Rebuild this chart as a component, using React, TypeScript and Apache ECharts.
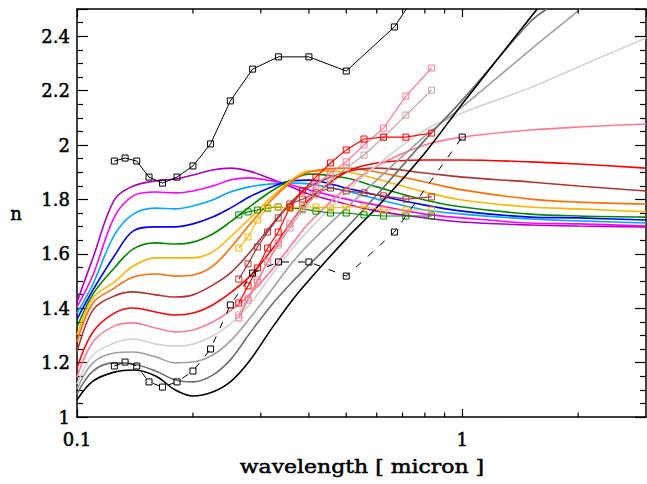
import React, { useEffect, useRef } from "react";
import * as echarts from "echarts";

// model curves: wavelength grid
const curveX = [0.1, 0.11, 0.125, 0.14, 0.16, 0.18, 0.2, 0.225, 0.25, 0.28, 0.32, 0.36, 0.4, 0.5, 0.6, 0.8, 1, 1.5, 2, 3];
const grayX = [0.1, 0.11, 0.125, 0.14, 0.16, 0.18, 0.2, 0.225, 0.25, 0.28, 0.32, 0.36, 0.4, 0.5, 0.6, 0.8, 1, 1.5, 2, 2.02];
const darkGrayX = [0.1, 0.11, 0.125, 0.14, 0.16, 0.18, 0.2, 0.225, 0.25, 0.28, 0.32, 0.36, 0.4, 0.5, 0.6, 0.8, 1, 1.5, 1.66];
const blackX = [0.1, 0.11, 0.125, 0.14, 0.16, 0.18, 0.2, 0.225, 0.25, 0.28, 0.32, 0.36, 0.4, 0.5, 0.6, 0.8, 1, 1.5, 1.566];

const nPurple = [1.423, 1.585, 1.798, 1.849, 1.868, 1.875, 1.89, 1.908, 1.915, 1.904, 1.875, 1.846, 1.82, 1.783, 1.757, 1.732, 1.717, 1.706, 1.702, 1.699];
const nMagenta = [1.404, 1.522, 1.735, 1.813, 1.827, 1.824, 1.831, 1.849, 1.871, 1.879, 1.868, 1.853, 1.835, 1.801, 1.779, 1.746, 1.732, 1.713, 1.71, 1.702];
const nSky = [1.382, 1.489, 1.669, 1.746, 1.768, 1.765, 1.776, 1.798, 1.827, 1.846, 1.857, 1.86, 1.857, 1.831, 1.801, 1.761, 1.746, 1.728, 1.721, 1.713];
const nBlue = [1.36, 1.467, 1.592, 1.684, 1.699, 1.699, 1.71, 1.735, 1.768, 1.809, 1.846, 1.868, 1.871, 1.842, 1.816, 1.779, 1.757, 1.735, 1.732, 1.724];
const nGreen = [1.331, 1.452, 1.548, 1.618, 1.64, 1.636, 1.643, 1.673, 1.717, 1.772, 1.831, 1.871, 1.893, 1.879, 1.846, 1.798, 1.772, 1.746, 1.739, 1.735];
const nGold = [1.301, 1.438, 1.496, 1.555, 1.585, 1.585, 1.585, 1.607, 1.662, 1.728, 1.809, 1.871, 1.904, 1.901, 1.875, 1.827, 1.798, 1.772, 1.765, 1.754];
const nOrange = [1.276, 1.419, 1.474, 1.515, 1.526, 1.518, 1.522, 1.555, 1.621, 1.706, 1.798, 1.864, 1.901, 1.915, 1.901, 1.864, 1.835, 1.801, 1.79, 1.783];
const nBrown = [1.239, 1.393, 1.445, 1.46, 1.449, 1.441, 1.449, 1.485, 1.529, 1.603, 1.706, 1.79, 1.846, 1.901, 1.915, 1.897, 1.882, 1.864, 1.849, 1.831];
const nRed = [1.18, 1.313, 1.382, 1.401, 1.386, 1.375, 1.382, 1.412, 1.456, 1.515, 1.614, 1.717, 1.798, 1.901, 1.934, 1.945, 1.945, 1.938, 1.93, 1.915];
const nPink = [1.147, 1.276, 1.335, 1.346, 1.327, 1.313, 1.32, 1.349, 1.39, 1.449, 1.54, 1.632, 1.713, 1.842, 1.923, 2.0, 2.029, 2.055, 2.066, 2.077];
const nLightGray = [1.121, 1.228, 1.272, 1.287, 1.268, 1.261, 1.268, 1.298, 1.342, 1.412, 1.522, 1.614, 1.688, 1.827, 1.926, 2.055, 2.118, 2.21, 2.287, 2.393];
const nGray = [1.103, 1.199, 1.235, 1.239, 1.221, 1.199, 1.202, 1.228, 1.279, 1.36, 1.467, 1.563, 1.636, 1.768, 1.871, 2.033, 2.14, 2.349, 2.493, 2.5];
const nDarkGray = [1.085, 1.169, 1.199, 1.195, 1.169, 1.136, 1.129, 1.154, 1.21, 1.305, 1.412, 1.493, 1.559, 1.695, 1.816, 2.018, 2.165, 2.452, 2.5];
const nBlack = [1.063, 1.132, 1.165, 1.173, 1.151, 1.099, 1.077, 1.092, 1.129, 1.205, 1.325, 1.425, 1.503, 1.655, 1.77, 1.971, 2.151, 2.467, 2.5];

// measured points (black): wavelengths
const measX = [0.125, 0.1333, 0.1429, 0.1538, 0.1667, 0.1818, 0.2, 0.2222, 0.25, 0.2857, 0.3333, 0.4, 0.5, 0.6667, 1.0];
const measUpper = [1.941, 1.952, 1.941, 1.882, 1.86, 1.882, 1.923, 2.004, 2.162, 2.279, 2.324, 2.324, 2.272, 2.434, 2.81];
const measLower = [1.1875, 1.202, 1.1875, 1.129, 1.11, 1.129, 1.169, 1.25, 1.412, 1.529, 1.57, 1.57, 1.518, 1.68, 2.029];

// measured points (colored)
const sampleX = [0.263, 0.278, 0.294, 0.3125, 0.333, 0.357, 0.385, 0.417, 0.455, 0.5, 0.556, 0.625, 0.714, 0.833];
const mGreen = [1.743, 1.754, 1.761, 1.768, 1.772, 1.768, 1.765, 1.757, 1.75, 1.75, 1.743, 1.739, 1.739, 1.739];
const mGold = [1.621, 1.662, 1.724, 1.772, 1.772, 1.768, 1.772, 1.772, 1.768, 1.772, 1.772, 1.761, 1.761, 1.761];
const mBrown = [1.507, 1.563, 1.625, 1.68, 1.732, 1.783, 1.801, 1.824, 1.842, 1.831, 1.824, 1.813, 1.801, 1.809];
const mRed = [1.419, 1.482, 1.548, 1.621, 1.68, 1.772, 1.831, 1.882, 1.934, 1.982, 2.022, 2.029, 2.029, 2.044];
const mPink = [1.364, 1.43, 1.496, 1.57, 1.64, 1.71, 1.779, 1.853, 1.897, 1.938, 2.0, 2.062, 2.18, 2.283];
const mRosy = [1.375, 1.438, 1.504, 1.57, 1.632, 1.695, 1.761, 1.816, 1.871, 1.915, 1.963, 2.029, 2.11, 2.202];

const xMinorTicks = [0.2, 0.3, 0.4, 0.5, 0.6, 0.7, 0.8, 0.9, 2];

const FONT = "'DejaVu Serif', serif";

const zip = (xs: number[], ys: number[]) => xs.map((x, i) => [x, ys[i]]);

export default function App() {
  const ref = useRef<HTMLDivElement>(null);
  useEffect(() => {
    document.body.style.margin = "0";
    if (!ref.current) return;
    const chart = echarts.init(ref.current, undefined, { renderer: "svg" });

    const curveDefs: [string, string, number[], number[]][] = [
      ["purple", "#b000c0", curveX, nPurple],
      ["magenta", "#ff00ff", curveX, nMagenta],
      ["sky", "#00a8ff", curveX, nSky],
      ["blue", "#0000ff", curveX, nBlue],
      ["green", "#008a00", curveX, nGreen],
      ["gold", "#ffb400", curveX, nGold],
      ["orange", "#ff6e00", curveX, nOrange],
      ["brown", "#b03434", curveX, nBrown],
      ["red", "#ff0000", curveX, nRed],
      ["pink", "#ff7896", curveX, nPink],
      ["lightgray", "#d2d2d2", curveX, nLightGray],
      ["gray", "#a0a0a0", grayX, nGray],
      ["darkgray", "#6e6e6e", darkGrayX, nDarkGray],
      ["black", "#000000", blackX, nBlack],
    ];

    const curveSeries = curveDefs.map(([name, color, xs, ys]) => ({
      name,
      type: "line",
      data: zip(xs, ys),
      showSymbol: false,
      symbol: "none",
      smooth: 0.35,
      clip: true,
      z: 2,
      lineStyle: { color, width: 1.6 },
      silent: true,
    }));

    const markDefs: [string, string, number[]][] = [
      ["mGreen", "#008a00", mGreen],
      ["mGold", "#ffb400", mGold],
      ["mBrown", "#b03434", mBrown],
      ["mRosy", "#c8a0a0", mRosy],
      ["mPink", "#ff7896", mPink],
      ["mRed", "#ff0000", mRed],
    ];

    const sq = (color: string) => ({ color: "rgba(0,0,0,0)", borderColor: color, borderWidth: 1 });

    const markSeries = markDefs.map(([name, color, ys]) => ({
      name,
      type: "line",
      data: zip(sampleX, ys),
      symbol: "rect",
      symbolSize: 6,
      showSymbol: true,
      clip: true,
      z: 3,
      lineStyle: { color, width: 1.2 },
      itemStyle: sq(color),
      silent: true,
    }));

    const upperData = measX.map((x, i) =>
      i === measX.length - 1 ? { value: [x, measUpper[i]], symbol: "none" } : [x, measUpper[i]]
    );

    const blackSeries = [
      {
        name: "measUpper",
        type: "line",
        data: upperData,
        symbol: "rect",
        symbolSize: 6,
        clip: true,
        z: 4,
        lineStyle: { color: "#000", width: 1 },
        itemStyle: sq("#000"),
        silent: true,
      },
      {
        name: "measLower",
        type: "line",
        data: zip(measX, measLower),
        symbol: "rect",
        symbolSize: 6,
        clip: true,
        z: 4,
        lineStyle: { color: "#000", width: 1, type: [7, 9] },
        itemStyle: sq("#000"),
        silent: true,
      },
    ];

    const tickSeries = {
      name: "xminor",
      type: "custom",
      silent: true,
      z: 10,
      data: xMinorTicks.map((v) => [v, 1]),
      renderItem: (_params: any, api: any) => {
        const v = api.value(0);
        const b = api.coord([v, 1]);
        const t = api.coord([v, 2.5]);
        return {
          type: "group",
          children: [
            { type: "line", shape: { x1: b[0], y1: b[1], x2: b[0], y2: b[1] - 4.5 }, style: { stroke: "#000", lineWidth: 1.2 } },
            { type: "line", shape: { x1: t[0], y1: t[1], x2: t[0], y2: t[1] + 4.5 }, style: { stroke: "#000", lineWidth: 1.2 } },
          ],
        };
      },
    };

    const labelStyle = {
      color: "#000",
      fontFamily: FONT,
      fontSize: 18,
      textBorderColor: "#000",
      textBorderWidth: 0.5,
    };

    const baseX = (pos: string, labels: boolean) => ({
      type: "log",
      logBase: 10,
      min: 0.1,
      max: 3,
      position: pos,
      axisLine: { show: true, onZero: false, lineStyle: { color: "#000", width: 1.5 } },
      axisTick: { show: true, inside: true, length: 8, lineStyle: { color: "#000", width: 1.2 } },
      axisLabel: {
        show: labels,
        ...labelStyle,
        margin: 13,
        showMaxLabel: false,
        formatter: (v: number) => (Math.abs(v - 0.1) < 1e-9 ? "0.1" : Math.abs(v - 1) < 1e-9 ? "1" : ""),
      },
      splitLine: { show: false },
      minorTick: { show: false },
    });

    const baseY = (pos: string, labels: boolean) => ({
      type: "value",
      min: 1,
      max: 2.5,
      interval: 0.2,
      position: pos,
      axisLine: { show: true, onZero: false, lineStyle: { color: "#000", width: 1.5 } },
      axisTick: { show: true, inside: true, length: 11, lineStyle: { color: "#000", width: 1.2 } },
      minorTick: { show: true, splitNumber: 4, length: 6, lineStyle: { color: "#000", width: 1.2 } },
      axisLabel: {
        show: labels,
        ...labelStyle,
        margin: 7,
        showMaxLabel: false,
      },
      splitLine: { show: false },
    });

    const nameStyle = {
      font: `18px ${FONT}`,
      fill: "#000",
      stroke: "#000",
      lineWidth: 0.5,
      align: "center",
      verticalAlign: "middle",
      textAlign: "center",
      textVerticalAlign: "middle",
    };

    chart.setOption({
      animation: false,
      backgroundColor: "#ffffff",
      grid: { left: 77, right: 1, top: 9, bottom: 67, containLabel: false },
      xAxis: [baseX("bottom", true), baseX("top", false)],
      yAxis: [baseY("left", true), baseY("right", false)],
      graphic: [
        {
          type: "text",
          x: 362,
          y: 467,
          scaleX: 1.22,
          style: { ...nameStyle, text: "wavelength [ micron ]" },
        },
        {
          type: "text",
          x: 16,
          y: 213,
          style: { ...nameStyle, text: "n" },
        },
      ],
      series: [...curveSeries, ...markSeries, ...blackSeries, tickSeries],
    });

    return () => chart.dispose();
  }, []);

  return <div ref={ref} style={{ width: 647, height: 484 }} />;
}
